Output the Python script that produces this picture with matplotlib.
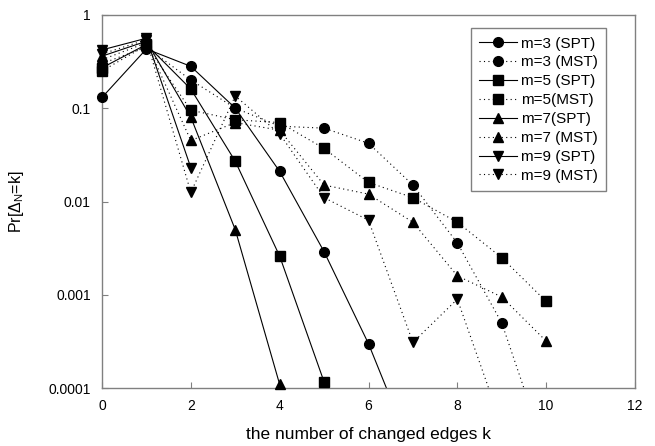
import matplotlib
matplotlib.use("Agg")
import matplotlib.pyplot as plt
from matplotlib.lines import Line2D
from matplotlib.ticker import FixedLocator, FixedFormatter, NullLocator

plt.rcParams['font.family'] = ['Liberation Sans', 'DejaVu Sans']
plt.rcParams['mathtext.fontset'] = 'custom'
plt.rcParams['mathtext.rm'] = 'Liberation Sans'
plt.rcParams['mathtext.it'] = 'Liberation Sans:italic'

# data (k = number of changed edges)
k_m3_spt = [0, 1, 2, 3, 4, 5, 6, 7]
p_m3_spt = [0.13, 0.43, 0.28, 0.1, 0.021, 0.0029, 0.0003, 0.00002]
k_m3_mst = [0, 1, 2, 3, 4, 5, 6, 7, 8, 9, 10]
p_m3_mst = [0.3, 0.45, 0.2, 0.1, 0.064, 0.061, 0.042, 0.015, 0.0036, 0.0005, 0.00002]
k_m5_spt = [0, 1, 2, 3, 4, 5]
p_m5_spt = [0.27, 0.48, 0.16, 0.027, 0.0026, 0.000117]
k_m5_mst = [0, 1, 2, 3, 4, 5, 6, 7, 8, 9, 10]
p_m5_mst = [0.25, 0.47, 0.095, 0.075, 0.07, 0.037, 0.016, 0.011, 0.006, 0.0025, 0.00085]
k_m7_spt = [0, 1, 2, 3, 4]
p_m7_spt = [0.36, 0.52, 0.08, 0.005, 0.00011]
k_m7_mst = [0, 1, 2, 3, 4, 5, 6, 7, 8, 9, 10]
p_m7_mst = [0.33, 0.5, 0.045, 0.07, 0.058, 0.015, 0.012, 0.006, 0.0016, 0.00095, 0.00032]
k_m9_spt = [0, 1, 2]
p_m9_spt = [0.42, 0.56, 0.023]
k_m9_mst = [0, 1, 2, 3, 4, 5, 6, 7, 8, 9]
p_m9_mst = [0.38, 0.54, 0.0125, 0.135, 0.053, 0.011, 0.0063, 0.00031, 0.0009, 0.00004]

series = [
    (k_m3_spt, p_m3_spt, 'o', '-', 'm=3 (SPT)'),
    (k_m3_mst, p_m3_mst, 'o', ':', 'm=3 (MST)'),
    (k_m5_spt, p_m5_spt, 's', '-', 'm=5 (SPT)'),
    (k_m5_mst, p_m5_mst, 's', ':', 'm=5(MST)'),
    (k_m7_spt, p_m7_spt, '^', '-', 'm=7(SPT)'),
    (k_m7_mst, p_m7_mst, '^', ':', 'm=7 (MST)'),
    (k_m9_spt, p_m9_spt, 'v', '-', 'm=9 (SPT)'),
    (k_m9_mst, p_m9_mst, 'v', ':', 'm=9 (MST)'),
]

ymin, ymax = 0.0001, 1

fig = plt.figure(figsize=(6.55, 4.46), dpi=100)
ax = fig.add_axes([0.1557, 0.1294, 0.8138, 0.8376])

handles = []
for k, p, mk, ls, lab in series:
    style = '-' if ls == '-' else (0, (1, 3))
    # lines are clipped to the axes, markers inside the range are not
    ax.plot(k, p, color='black', linestyle=style, linewidth=0.8)
    inside = [i for i, v in enumerate(p) if ymin <= v <= ymax]
    ax.plot([k[i] for i in inside], [p[i] for i in inside], linestyle='None',
            marker=mk, markersize=7, color='black', clip_on=False, zorder=3)
    handles.append(Line2D([], [], color='black', linestyle=style, linewidth=0.8,
                          marker=mk, markersize=7, label=lab))

ax.set_yscale('log')
ax.set_xlim(0, 12)
ax.set_ylim(ymin, ymax)
ax.set_xticks([0, 2, 4, 6, 8, 10, 12])
ax.yaxis.set_major_locator(FixedLocator([0.0001, 0.001, 0.01, 0.1, 1]))
ax.yaxis.set_major_formatter(FixedFormatter(['0.0001', '0.001', '0.01', '0.1', '1']))
ax.yaxis.set_minor_locator(NullLocator())
ax.tick_params(direction='in', length=4, width=0.8, color='#808080',
               labelsize=10)
ax.tick_params(axis='x', pad=8)
ax.tick_params(axis='y', pad=8)

for s in ax.spines.values():
    s.set_color('#808080')
    s.set_linewidth(1.0)

ax.set_xlabel('the number of changed edges k', fontsize=12.5, labelpad=10)
ax.set_ylabel(r'Pr[$\mathrm{\Delta}_\mathrm{N}$=k]', fontsize=11.5, labelpad=16)

leg = ax.legend(handles=handles, loc='upper right', bbox_to_anchor=(0.946, 0.964),
                fontsize=11, frameon=True, fancybox=False,
                handlelength=2.5, handletextpad=0.25, labelspacing=0.32,
                borderpad=0.55, borderaxespad=0, numpoints=1)
leg.get_frame().set_edgecolor('#606060')
leg.get_frame().set_linewidth(1.0)

fig.savefig('out.png', dpi=100)
